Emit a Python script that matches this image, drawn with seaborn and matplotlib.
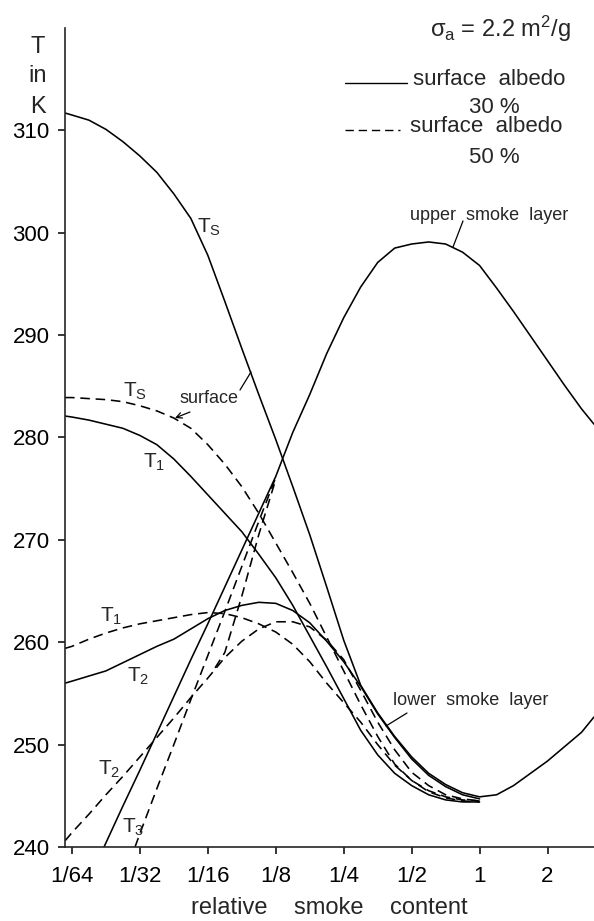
import matplotlib
matplotlib.use("Agg")
import matplotlib.pyplot as plt
from matplotlib.lines import Line2D
from matplotlib.ticker import NullLocator
import pandas as pd
import seaborn as sns

# ---------------- data ----------------
X_TICKS = [1/64, 1/32, 1/16, 1/8, 1/4, 1/2, 1, 2]
X_TICK_LABELS = ["1/64", "1/32", "1/16", "1/8", "1/4", "1/2", "1", "2"]
Y_TICKS = [240, 250, 260, 270, 280, 290, 300, 310]
X_LIMITS = [0.01456, 3.2125]
Y_LIMITS = [240, 320]

# relative smoke content at which the curves were read (quarter-octave steps)
X_GRID = [0.01456, 0.015625, 0.01858, 0.0221, 0.02628, 0.03125, 0.03716, 0.04419,
          0.05256, 0.0625, 0.07433, 0.08839, 0.1051, 0.125, 0.1487, 0.1768,
          0.2102, 0.25, 0.2973, 0.3536, 0.4204, 0.5, 0.5946, 0.7071,
          0.8409, 1.0, 1.189, 1.414, 1.682, 2.0, 2.378, 2.828, 3.2125]

# surface albedo 30 % (solid curves)
TS30_X = X_GRID
TS30_T = [311.7, 311.5, 311.0, 310.1, 308.9, 307.5, 305.9, 303.8, 301.4, 297.8,
          293.3, 288.7, 284.2, 279.8, 275.2, 270.5, 265.4, 260.2, 255.8, 253.1,
          250.8, 248.8, 247.2, 246.1, 245.3, 244.9, 245.1, 246.0, 247.2, 248.4,
          249.8, 251.2, 252.7]

T130_X = X_GRID[:26]
T130_T = [282.1, 282.0, 281.7, 281.3, 280.9, 280.2, 279.3, 277.9, 276.2, 274.4,
          272.6, 270.8, 268.6, 266.3, 263.6, 260.6, 257.6, 254.5, 251.4, 249.0,
          247.2, 246.0, 245.1, 244.6, 244.4, 244.4]

T230_X = X_GRID[:26]
T230_T = [256.0, 256.2, 256.7, 257.2, 258.0, 258.8, 259.6, 260.3, 261.3, 262.3,
          263.1, 263.6, 263.9, 263.8, 263.1, 261.9, 260.1, 258.1, 255.7, 253.0,
          250.7, 248.6, 247.0, 245.9, 245.1, 244.7]

# upper smoke layer (T3)
T330_X = [0.02168] + X_GRID[3:]
T330_T = [240.0, 240.4, 244.0, 247.5, 251.1, 254.7, 258.3, 261.8, 265.4, 269.0,
          272.6, 276.2, 280.5, 284.2, 288.2, 291.7, 294.7, 297.1, 298.5, 298.9,
          299.1, 298.9, 298.1, 296.8, 294.6, 292.3, 289.9, 287.5, 285.1, 282.8,
          281.3]

# surface albedo 50 % (dashed curves)
TS50_X = X_GRID[:26]
TS50_T = [283.9, 283.9, 283.8, 283.7, 283.5, 283.1, 282.6, 281.9, 280.9, 279.3,
          277.4, 275.2, 272.6, 269.7, 266.8, 263.8, 260.5, 257.2, 253.9, 250.8,
          248.1, 246.5, 245.5, 244.9, 244.6, 244.5]

T150_X = X_GRID[:26]
T150_T = [259.4, 259.6, 260.3, 260.9, 261.4, 261.8, 262.1, 262.4, 262.7, 262.9,
          262.8, 262.4, 261.8, 261.0, 259.8, 258.1, 256.0, 254.1, 252.2, 250.0,
          248.0, 246.5, 245.4, 244.8, 244.5, 244.4]

T250_X = X_GRID[:26]
T250_T = [240.6, 241.4, 243.2, 245.1, 246.9, 248.8, 250.7, 252.6, 254.6, 256.5,
          258.5, 260.1, 261.3, 262.0, 262.0, 261.5, 260.2, 258.3, 255.3, 252.2,
          249.5, 247.3, 246.0, 245.1, 244.7, 244.5]

T350_X = [0.02974] + X_GRID[5:14]
T350_T = [240.0, 241.3, 245.7, 250.0, 254.4, 258.7, 263.0, 267.4, 271.8, 276.1]

BRANCH50_X = [0.0673, 0.07433, 0.08839, 0.1051, 0.125]
BRANCH50_T = [257.5, 259.0, 264.5, 270.5, 275.9]

CURVES = [
    ("Ts 30", "30 %", TS30_X, TS30_T),
    ("T1 30", "30 %", T130_X, T130_T),
    ("T2 30", "30 %", T230_X, T230_T),
    ("T3 30", "30 %", T330_X, T330_T),
    ("Ts 50", "50 %", TS50_X, TS50_T),
    ("T1 50", "50 %", T150_X, T150_T),
    ("T2 50", "50 %", T250_X, T250_T),
    ("T3 50", "50 %", T350_X, T350_T),
    ("branch 50", "50 %", BRANCH50_X, BRANCH50_T),
]

rows = []
for name, albedo, xs, ts in CURVES:
    for x, t in zip(xs, ts):
        rows.append({"curve": name, "albedo": albedo, "smoke": x, "T": t})
df = pd.DataFrame(rows)

# ---------------- style ----------------
sns.set_style("ticks")
plt.rcParams["font.family"] = ["Liberation Sans", "DejaVu Sans"]
plt.rcParams["mathtext.fontset"] = "custom"
plt.rcParams["mathtext.rm"] = "Liberation Sans"
plt.rcParams["mathtext.it"] = "Liberation Sans"
plt.rcParams["mathtext.bf"] = "Liberation Sans"

W, H = 594, 921
fig = plt.figure(figsize=(W / 100, H / 100), dpi=100)
ax = fig.add_axes([65 / W, 74 / H, 529 / W, 819 / H])
ax.set_xscale("log", base=2)

sns.lineplot(data=df, x="smoke", y="T", units="curve", estimator=None,
             style="albedo", style_order=["30 %", "50 %"],
             dashes={"30 %": "", "50 %": (6.0, 3.6)},
             color="black", linewidth=1.15, legend=False, ax=ax)

ax.set_xlim(*X_LIMITS)
ax.set_ylim(*Y_LIMITS)
ax.set_xticks(X_TICKS)
ax.set_xticklabels(X_TICK_LABELS)
ax.xaxis.set_minor_locator(NullLocator())
ax.set_yticks(Y_TICKS)
ax.set_xlabel("relative    smoke    content", fontsize=17, labelpad=7)
ax.set_ylabel("")
for s in ("top", "right"):
    ax.spines[s].set_visible(False)
for s in ("left", "bottom"):
    ax.spines[s].set_linewidth(1.2)
ax.tick_params(axis="both", direction="out", width=1.1, colors="black", labelsize=16)
ax.tick_params(axis="x", length=5, pad=9)
ax.tick_params(axis="y", length=5, pad=6)


def fx(px):
    return px / W


def fy(py):
    return 1 - py / H


# axis title "T in K"
for s, py in (("T", 47), ("in", 76), ("K", 107)):
    fig.text(fx(38), fy(py), s, ha="center", va="center", fontsize=17)

# legend block
fig.text(fx(430), fy(37), r"$\sigma_a$ = 2.2 m$^2$/g", ha="left", va="baseline", fontsize=17)
fig.add_artist(Line2D([fx(345), fx(407)], [fy(83), fy(83)], color="black", lw=1.0))
fig.text(fx(413), fy(85), "surface  albedo", ha="left", va="baseline", fontsize=16)
fig.text(fx(494), fy(113), "30 %", ha="center", va="baseline", fontsize=16)
fig.add_artist(Line2D([fx(345), fx(400)], [fy(130), fy(130)], color="black", lw=1.0,
                      dashes=(6, 3.5)))
fig.text(fx(410), fy(132), "surface  albedo", ha="left", va="baseline", fontsize=16)
fig.text(fx(494), fy(163), "50 %", ha="center", va="baseline", fontsize=16)

# curve labels
for s, px, py in ((r"$T_S$", 197, 233), (r"$T_S$", 123, 397), (r"$T_1$", 143, 468),
                  (r"$T_1$", 100, 622), (r"$T_2$", 127, 682), (r"$T_2$", 98, 775),
                  (r"$T_3$", 122, 833)):
    fig.text(fx(px), fy(py), s, ha="left", va="baseline", fontsize=15)

fig.text(fx(180), fy(403), "surface", ha="left", va="baseline", fontsize=13)
fig.text(fx(410), fy(220), "upper  smoke  layer", ha="left", va="baseline", fontsize=13)
fig.text(fx(393), fy(705), "lower  smoke  layer", ha="left", va="baseline", fontsize=13)


def pointer(x0, y0, x1, y1, style="-"):
    ax.annotate("", xy=(x1, H - y1), xytext=(x0, H - y0),
                xycoords="figure pixels", textcoords="figure pixels",
                arrowprops=dict(arrowstyle=style, lw=0.9, color="black",
                                shrinkA=0, shrinkB=0))


pointer(240, 390, 251, 372)
pointer(190, 412, 175, 418, "->")
pointer(463, 221, 453, 247)
pointer(407, 713, 386, 726)

fig.savefig("out.png", dpi=100)
